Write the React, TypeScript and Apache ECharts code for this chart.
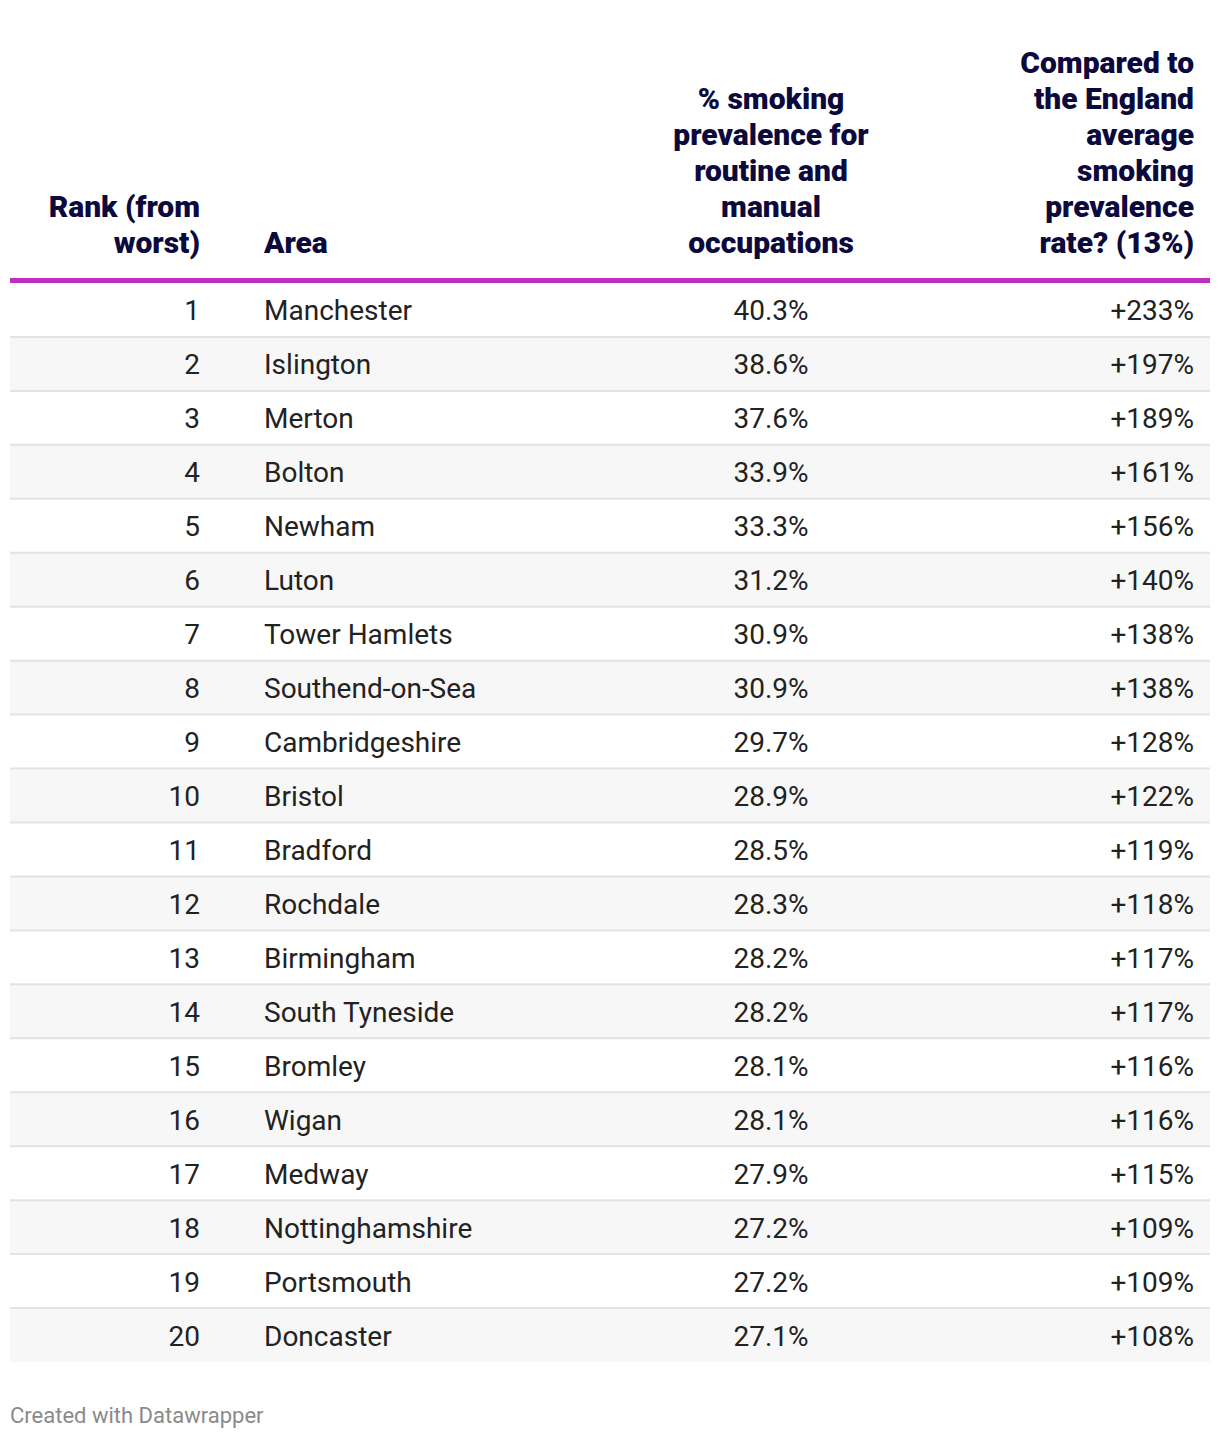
import React, { useEffect, useRef } from "react";
import * as echarts from "echarts";

const headers = [
  "Rank (from\nworst)",
  "Area",
  "% smoking\nprevalence for\nroutine and\nmanual\noccupations",
  "Compared to\nthe England\naverage\nsmoking\nprevalence\nrate? (13%)",
];

const ranks = [1, 2, 3, 4, 5, 6, 7, 8, 9, 10, 11, 12, 13, 14, 15, 16, 17, 18, 19, 20];

const areas = [
  "Manchester",
  "Islington",
  "Merton",
  "Bolton",
  "Newham",
  "Luton",
  "Tower Hamlets",
  "Southend-on-Sea",
  "Cambridgeshire",
  "Bristol",
  "Bradford",
  "Rochdale",
  "Birmingham",
  "South Tyneside",
  "Bromley",
  "Wigan",
  "Medway",
  "Nottinghamshire",
  "Portsmouth",
  "Doncaster",
];

const prevalence = [40.3, 38.6, 37.6, 33.9, 33.3, 31.2, 30.9, 30.9, 29.7, 28.9, 28.5, 28.3, 28.2, 28.2, 28.1, 28.1, 27.9, 27.2, 27.2, 27.1];

const comparedToEngland = [233, 197, 189, 161, 156, 140, 138, 138, 128, 122, 119, 118, 117, 117, 116, 116, 115, 109, 109, 108];

const footer = "Created with Datawrapper";

const FONT = "Roboto, 'Noto Sans', sans-serif";
const HEAD_COLOR = "#0c0a3c";
const BODY_COLOR = "#222222";

export default function App() {
  const ref = useRef<HTMLDivElement>(null);

  useEffect(() => {
    if (!ref.current) return;
    const chart = echarts.init(ref.current, undefined, { renderer: "svg" });

    const headerX = [200, 264, 771, 1194];
    const headerAlign = ["right", "left", "center", "right"];

    const option: any = {
      animation: false,
      backgroundColor: "#ffffff",
      grid: { left: 0, right: 0, top: 283, height: 1079 },
      xAxis: { type: "value", min: 0, max: 1220, show: false },
      yAxis: {
        type: "category",
        inverse: true,
        data: ranks.map(String),
        show: false,
      },
      graphic: [
        ...headers.map((h, k) => ({
          type: "text",
          x: headerX[k],
          y: 260,
          style: {
            text: h,
            fill: HEAD_COLOR,
            fontFamily: FONT,
            fontWeight: 900,
            fontSize: 30,
            lineHeight: 36,
            align: headerAlign[k],
            verticalAlign: "bottom",
          },
        })),
        {
          type: "rect",
          shape: { x: 10, y: 278, width: 1200, height: 5 },
          style: { fill: "#c02ebd" },
        },
        {
          type: "text",
          x: 10,
          y: 1415,
          style: {
            text: footer,
            fill: "#8a8a8a",
            fontFamily: FONT,
            fontSize: 22,
            verticalAlign: "middle",
          },
        },
      ],
      series: [
        {
          type: "custom",
          clip: false,
          data: ranks.map((r, i) => [0, i]),
          renderItem: (params: any, api: any) => {
            const i = params.dataIndex;
            const c = api.coord([0, i]);
            const h = api.size([0, 1])[1];
            const top = c[1] - h / 2;
            const cy = c[1];
            const x = (v: number) => api.coord([v, i])[0];
            const children: any[] = [];
            children.push({
              type: "rect",
              shape: { x: x(10), y: top, width: x(1210) - x(10), height: h },
              style: { fill: i % 2 === 1 ? "#f7f7f7" : "#ffffff" },
            });
            if (i > 0) {
              children.push({
                type: "line",
                shape: { x1: x(10), y1: top, x2: x(1210), y2: top },
                style: { stroke: "#e3e3e3", lineWidth: 2 },
              });
            }
            const textStyle = (text: string, tx: number, align: string) => ({
              type: "text",
              style: {
                text,
                x: tx,
                y: cy + 1,
                fill: BODY_COLOR,
                fontFamily: FONT,
                fontSize: 28,
                align,
                verticalAlign: "middle",
              },
            });
            children.push(textStyle(String(ranks[i]), x(200), "right"));
            children.push(textStyle(areas[i], x(264), "left"));
            children.push(textStyle(prevalence[i].toFixed(1) + "%", x(771), "center"));
            children.push(textStyle("+" + comparedToEngland[i] + "%", x(1194), "right"));
            return { type: "group", children };
          },
        },
      ],
    };

    chart.setOption(option);
    return () => chart.dispose();
  }, []);

  return (
    <div
      ref={ref}
      style={{ position: "absolute", left: 0, top: 0, width: 1220, height: 1438 }}
    />
  );
}
